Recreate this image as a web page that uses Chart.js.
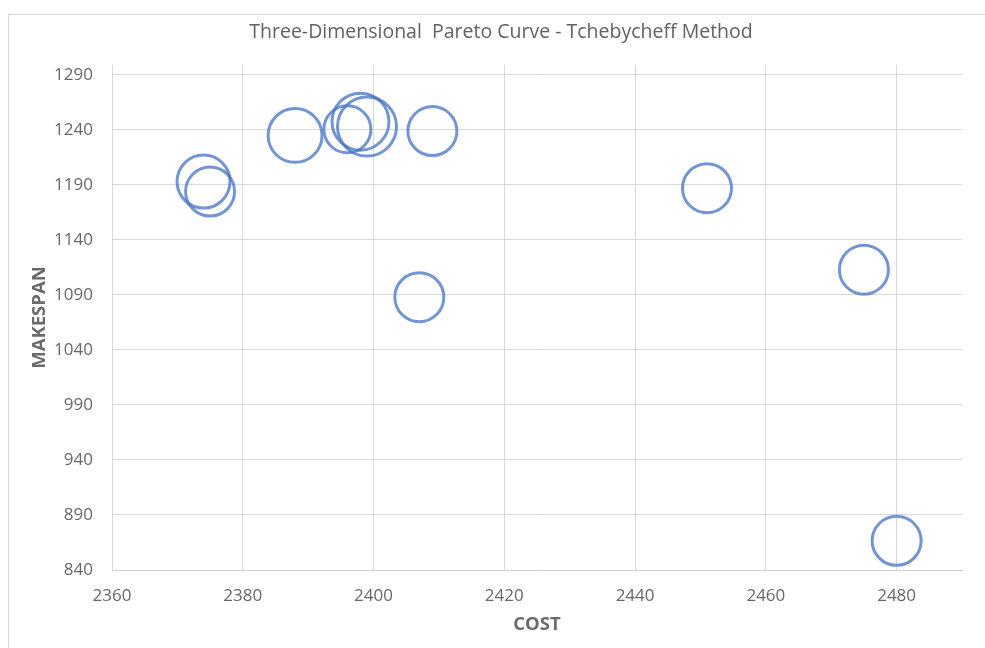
<!DOCTYPE html>
<html>
<head>
<meta charset="utf-8">
<title>Three-Dimensional Pareto Curve - Tchebycheff Method</title>
<script src="https://cdn.jsdelivr.net/npm/chart.js@4.4.1/dist/chart.umd.min.js"></script>
<style>
  html, body { margin: 0; padding: 0; background: #fff; }
  #wrap { position: relative; width: 985px; height: 648px; overflow: hidden; }
  #frame { position: absolute; left: 8px; top: 14px; width: 990px; height: 650px;
           border-left: 1px solid #d9d9d9; border-top: 1px solid #d9d9d9; }
  #chart { position: absolute; left: 0; top: 0; }
</style>
</head>
<body>
<div id="wrap">
  <div id="frame"></div>
  <canvas id="chart" width="985" height="648"></canvas>
</div>
<script>
// solutions
const costValues = [2374, 2375, 2388, 2396, 2398, 2399, 2409, 2407, 2451, 2475, 2480];
const makespanValues = [1193, 1184, 1235, 1240.5, 1247.5, 1243, 1239, 1088, 1187, 1113, 866.5];
// third dimension (bubble size), relative
const bubbleSizes = [117, 100, 121, 92, 135, 145, 100, 100, 100, 100, 100];

const costTicks = [2360, 2380, 2400, 2420, 2440, 2460, 2480];
const makespanTicks = [840, 890, 940, 990, 1040, 1090, 1140, 1190, 1240, 1290];

const fontFamily = '"Open Sans", "Noto Sans", sans-serif';
const titleColor = '#626262';
const tickColor = '#686868';
const axisTitleColor = '#6b6b6b';
const gridColor = '#d9d9d9';

const points = costValues.map((c, i) => ({
    x: c,
    y: makespanValues[i],
    r: 24.5 * Math.sqrt(bubbleSizes[i] / 100)
}));

Chart.defaults.font.family = fontFamily;

new Chart(document.getElementById('chart').getContext('2d'), {
    type: 'bubble',
    data: {
        datasets: [{
            label: 'Pareto solutions',
            data: points,
            backgroundColor: 'rgba(0,0,0,0)',
            borderColor: 'rgba(68,114,196,0.75)',
            borderWidth: 3,
            hoverBorderWidth: 3,
            clip: false
        }]
    },
    options: {
        responsive: false,
        animation: false,
        events: [],
        layout: { autoPadding: false, padding: { left: 20, right: 3, top: 0, bottom: 0 } },
        plugins: {
            legend: { display: false },
            tooltip: { enabled: false },
            title: {
                display: true,
                text: 'Three-Dimensional  Pareto Curve - Tchebycheff Method',
                color: titleColor,
                font: { size: 19.5, weight: 'normal' },
                padding: { top: 20.3, bottom: 21.3 }
            }
        },
        scales: {
            x: {
                type: 'linear',
                min: 2360,
                max: 2490,
                afterBuildTicks: s => { s.ticks = costTicks.map(v => ({ value: v })); },
                afterFit: s => { s.height = 78; s.paddingLeft = 0; s.paddingRight = 0; },
                grid: { color: gridColor, drawTicks: false },
                border: { color: '#cfcfcf' },
                ticks: { color: tickColor, font: { size: 17 }, padding: 16, callback: v => String(v) },
                title: {
                    display: true,
                    text: 'COST',
                    color: axisTitleColor,
                    font: { size: 18.5, weight: 'bold' },
                    padding: { top: 0, bottom: 12 }
                }
            },
            y: {
                type: 'linear',
                min: 840,
                max: 1299,
                afterBuildTicks: s => { s.ticks = makespanTicks.map(v => ({ value: v })); },
                afterFit: s => { s.width = 92; s.paddingTop = 0; s.paddingBottom = 0; },
                grid: { color: gridColor, drawTicks: false },
                border: { color: gridColor },
                ticks: { color: tickColor, font: { size: 17 }, padding: 19, callback: v => String(v) },
                title: {
                    display: true,
                    text: 'MAKESPAN',
                    color: axisTitleColor,
                    font: { size: 18.5, weight: 'bold' },
                    padding: { top: 9, bottom: 0 }
                }
            },
            // empty box on the right to keep the plot area where the reference has it
            yRight: {
                type: 'linear',
                position: 'right',
                display: true,
                min: 840,
                max: 1299,
                afterFit: s => { s.width = 20; s.paddingTop = 0; s.paddingBottom = 0; },
                grid: { display: false, drawTicks: false },
                border: { display: false },
                ticks: { display: false },
                title: { display: false }
            }
        }
    }
});
</script>
</body>
</html>
